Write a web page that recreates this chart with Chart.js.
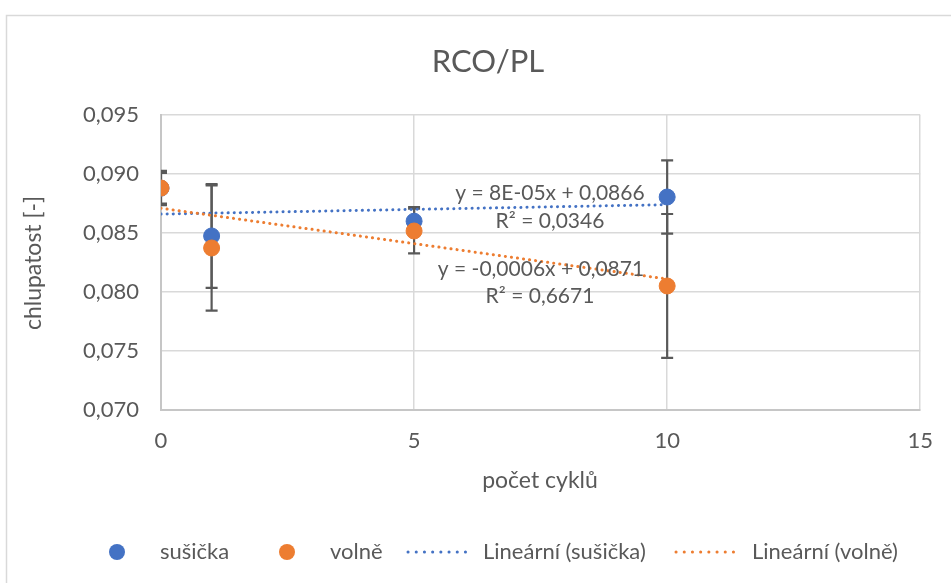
<!DOCTYPE html>
<html>
<head>
<meta charset="utf-8">
<script src="https://cdn.jsdelivr.net/npm/chart.js@4.4.1/dist/chart.umd.min.js"></script>
<style>
  html, body { margin: 0; padding: 0; background: #fff; }
  #wrap { width: 951px; height: 583px; position: relative; }
</style>
</head>
<body>
<div id="wrap"><canvas id="chart" width="951" height="583"></canvas></div>
<script>
// cycles and measured hairiness
const cycles = [0, 1, 5, 10];
const susicka = [0.0888, 0.08475, 0.0860, 0.08805];
const volne = [0.08881, 0.08373, 0.08517, 0.08051];
const susickaErr = [0.0013, 0.0044, 0.0012, 0.0031];
const volneErr = [0.00145, 0.0053, 0.0019, 0.0061];

// trendline coefficients as printed on the chart
const trendSusicka = { slope: 0.00008, intercept: 0.0866 };
const trendVolne = { slope: -0.0006, intercept: 0.0871 };
const trendRange = [0, 10];

const xTicks = [0, 5, 10, 15];
const yMin = 0.070, yMax = 0.095, yStep = 0.005;

const blue = '#4472C4';
const orange = '#ED7D31';
const textColor = '#595959';
const fontName = 'Lato, "Open Sans", sans-serif';

function toPoints(xs, ys) {
  return xs.map((x, i) => ({ x: x, y: ys[i] }));
}
function trendPoints(t) {
  return trendRange.map(x => ({ x: x, y: t.intercept + t.slope * x }));
}

const errorBars = {
  id: 'errorBars',
  beforeDatasetsDraw(chart) {
    const ctx = chart.ctx;
    const xs = chart.scales.x, ys = chart.scales.y;
    const area = chart.chartArea;
    ctx.save();
    ctx.beginPath();
    ctx.rect(area.left, area.top, area.right - area.left, area.bottom - area.top);
    ctx.clip();
    ctx.strokeStyle = '#595959';
    ctx.lineWidth = 2.2;
    const sets = [[susicka, susickaErr], [volne, volneErr]];
    sets.forEach(s => {
      cycles.forEach((c, i) => {
        const px = xs.getPixelForValue(c);
        const top = ys.getPixelForValue(s[0][i] + s[1][i]);
        const bot = ys.getPixelForValue(s[0][i] - s[1][i]);
        ctx.beginPath();
        ctx.moveTo(px, top); ctx.lineTo(px, bot);
        ctx.moveTo(px - 6, top); ctx.lineTo(px + 6, top);
        ctx.moveTo(px - 6, bot); ctx.lineTo(px + 6, bot);
        ctx.stroke();
      });
    });
    ctx.restore();
  }
};

const decorations = {
  id: 'decorations',
  beforeDraw(chart) {
    const ctx = chart.ctx;
    ctx.save();
    ctx.strokeStyle = '#d9d9d9';
    ctx.lineWidth = 1.5;
    ctx.strokeRect(6.5, 15.5, 1200, 1200);
    ctx.restore();
  },
  afterDraw(chart) {
    const ctx = chart.ctx;
    ctx.save();
    ctx.fillStyle = textColor;
    ctx.textAlign = 'center';
    ctx.textBaseline = 'middle';

    ctx.font = '31px ' + fontName;
    ctx.fillText('RCO/PL', 488, 62);

    ctx.font = '23px ' + fontName;
    ctx.fillText('počet cyklů', 540, 481);

    ctx.save();
    ctx.translate(34, 263);
    ctx.rotate(-Math.PI / 2);
    ctx.fillText('chlupatost [-]', 0, 0);
    ctx.restore();

    // trendline equations
    ctx.font = '21px ' + fontName;
    ctx.fillText('y = 8E-05x + 0,0866', 550, 193);
    ctx.fillText('R² = 0,0346', 550, 221);
    ctx.fillText('y = -0,0006x + 0,0871', 541, 269);
    ctx.fillText('R² = 0,6671', 540, 296);

    // legend
    const ly = 552;
    ctx.font = '22px ' + fontName;
    ctx.textAlign = 'left';
    ctx.fillStyle = blue;
    ctx.beginPath(); ctx.arc(117, ly, 8, 0, Math.PI * 2); ctx.fill();
    ctx.fillStyle = orange;
    ctx.beginPath(); ctx.arc(287, ly, 8, 0, Math.PI * 2); ctx.fill();
    ctx.fillStyle = textColor;
    ctx.fillText('sušička', 160, ly);
    ctx.fillText('volně', 330, ly);
    ctx.fillText('Lineární (sušička)', 483, ly);
    ctx.fillText('Lineární (volně)', 752, ly);
    ctx.lineWidth = 3;
    ctx.lineCap = 'round';
    ctx.setLineDash([0.1, 8.1]);
    ctx.strokeStyle = blue;
    ctx.beginPath(); ctx.moveTo(408, ly); ctx.lineTo(472, ly); ctx.stroke();
    ctx.strokeStyle = orange;
    ctx.beginPath(); ctx.moveTo(676, ly); ctx.lineTo(741, ly); ctx.stroke();
    ctx.restore();
  }
};

const ctx = document.getElementById('chart').getContext('2d');
const myChart = new Chart(ctx, {
  type: 'scatter',
  data: {
    datasets: [
      {
        label: 'sušička',
        data: toPoints(cycles, susicka),
        backgroundColor: blue,
        borderColor: blue,
        pointRadius: 8,
        pointHoverRadius: 8,
        order: 2
      },
      {
        label: 'volně',
        data: toPoints(cycles, volne),
        backgroundColor: orange,
        borderColor: orange,
        pointRadius: 8,
        pointHoverRadius: 8,
        order: 1
      },
      {
        label: 'Lineární (sušička)',
        type: 'line',
        data: trendPoints(trendSusicka),
        borderColor: blue,
        borderWidth: 3,
        borderDash: [0.1, 6],
        borderCapStyle: 'round',
        pointRadius: 0,
        order: 4
      },
      {
        label: 'Lineární (volně)',
        type: 'line',
        data: trendPoints(trendVolne),
        borderColor: orange,
        borderWidth: 3,
        borderDash: [0.1, 6],
        borderCapStyle: 'round',
        pointRadius: 0,
        order: 3
      }
    ]
  },
  options: {
    responsive: false,
    animation: false,
    events: [],
    layout: { padding: { left: 20, top: 115, right: 30, bottom: 0 } },
    plugins: {
      legend: { display: false },
      title: { display: false },
      tooltip: { enabled: false }
    },
    scales: {
      x: {
        type: 'linear',
        min: 0,
        max: 15,
        afterBuildTicks: s => { s.ticks = xTicks.map(v => ({ value: v })); },
        afterFit: s => { s.height = 173; },
        grid: { color: '#d9d9d9', lineWidth: 1.5, drawTicks: false },
        border: { color: '#c6c6c6', width: 2 },
        ticks: {
          color: textColor,
          font: { family: fontName, size: 22 },
          padding: 18,
          callback: v => String(v)
        }
      },
      y: {
        type: 'linear',
        min: yMin,
        max: yMax,
        afterFit: s => { s.width = 141; },
        grid: { color: '#d9d9d9', lineWidth: 1.5, drawTicks: false },
        border: { color: '#c6c6c6', width: 2 },
        ticks: {
          stepSize: yStep,
          color: textColor,
          font: { family: fontName, size: 22 },
          padding: 22,
          callback: v => v.toFixed(3).replace('.', ',')
        }
      }
    }
  },
  plugins: [errorBars, decorations]
});
</script>
</body>
</html>
